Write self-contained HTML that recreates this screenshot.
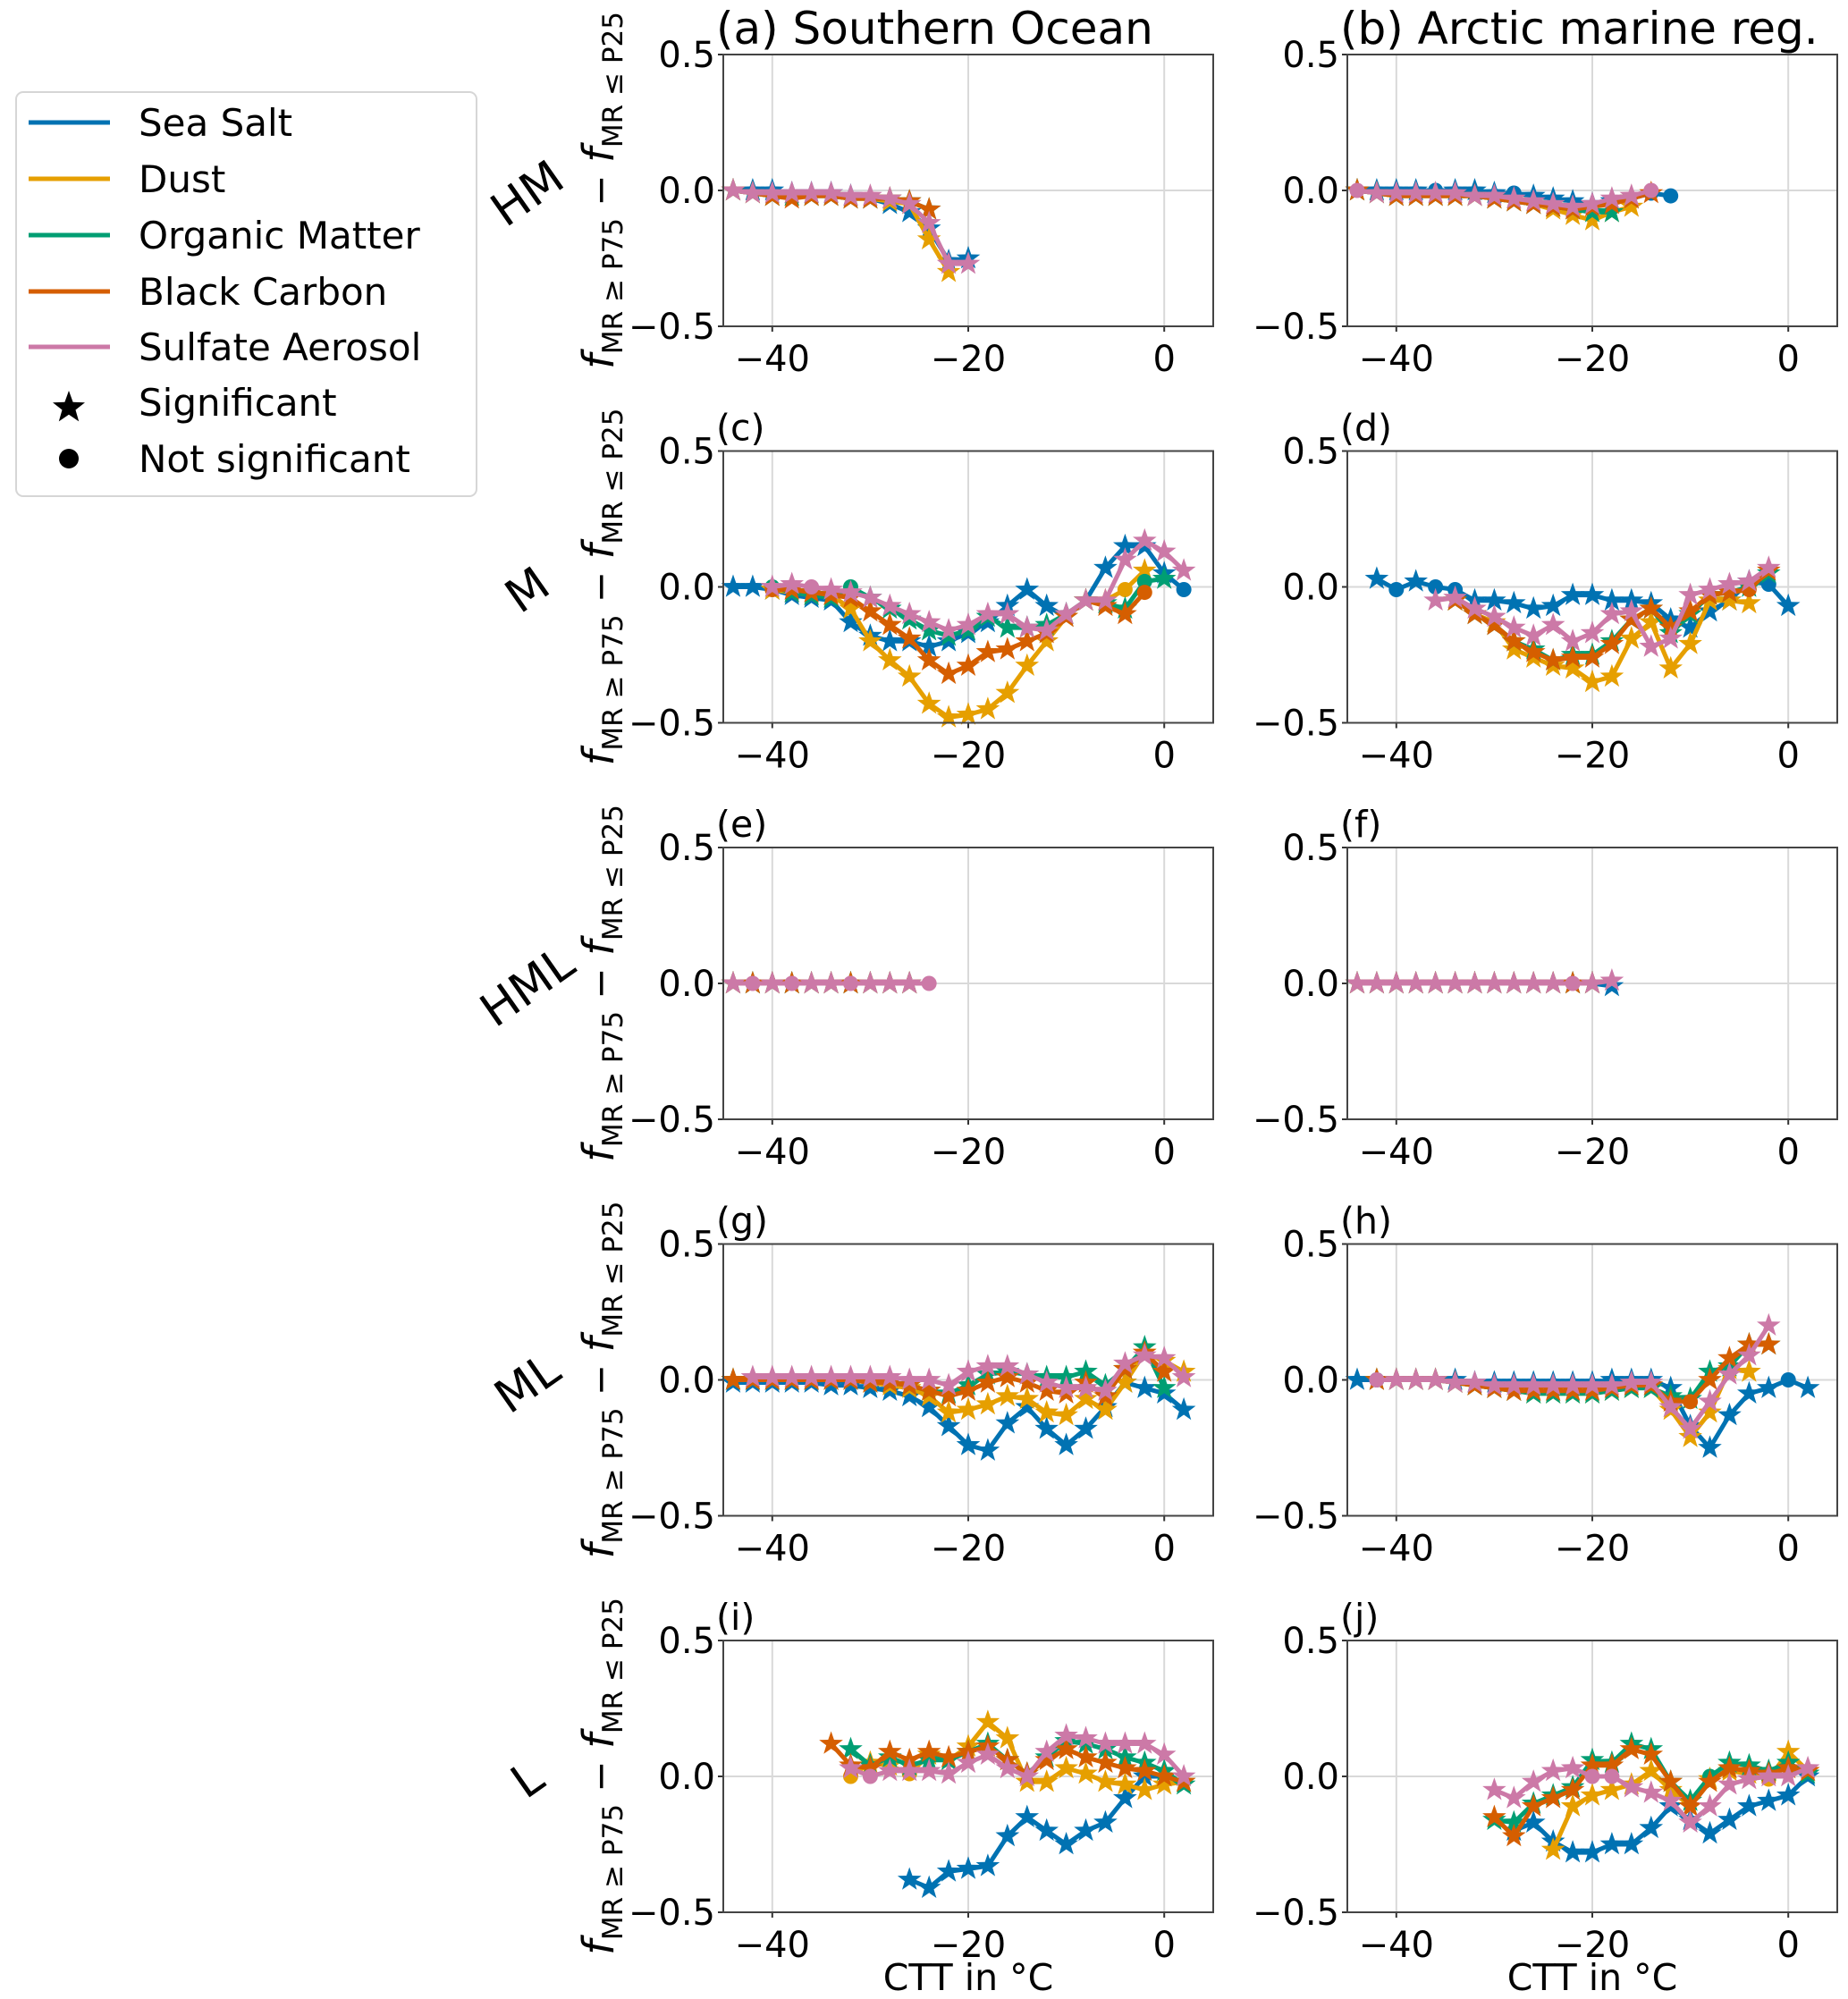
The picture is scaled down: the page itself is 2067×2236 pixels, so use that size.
<!DOCTYPE html>
<html><head><meta charset="utf-8"><style>
html,body{margin:0;padding:0;background:#fff;}
svg{display:block;font-family:"DejaVu Sans","Liberation Sans",sans-serif;}
</style></head><body>
<svg id="fig" width="2067" height="2236" viewBox="0 0 2067 2236" xmlns="http://www.w3.org/2000/svg">
<g id="legend">
<rect x="18" y="103" width="515" height="452" rx="8" fill="#fff" stroke="#d6d6d6" stroke-width="2"/>
<g><line x1="32" y1="137" x2="123" y2="137" stroke="#0072B2" stroke-width="5"/><text x="155" y="152" font-size="42">Sea Salt</text></g>
<g><line x1="32" y1="200" x2="123" y2="200" stroke="#E69F00" stroke-width="5"/><text x="155" y="215" font-size="42">Dust</text></g>
<g><line x1="32" y1="263" x2="123" y2="263" stroke="#009E73" stroke-width="5"/><text x="155" y="278" font-size="42">Organic Matter</text></g>
<g><line x1="32" y1="326" x2="123" y2="326" stroke="#D55E00" stroke-width="5"/><text x="155" y="341" font-size="42">Black Carbon</text></g>
<g><line x1="32" y1="388" x2="123" y2="388" stroke="#CC79A7" stroke-width="5"/><text x="155" y="403" font-size="42">Sulfate Aerosol</text></g>
<g><path d="M77,437 L81.6,449.7 L95,450.2 L84.5,458.5 L88.2,471.4 L77,463.8 L65.8,471.4 L69.5,458.5 L59,450.2 L72.4,449.7 Z" fill="#000"/><text x="155" y="465" font-size="42">Significant</text></g>
<g><circle cx="77" cy="513" r="11" fill="#000"/><text x="155" y="528" font-size="42">Not significant</text></g>
</g>
</svg>
<script>
const seriesNames = ["Sea Salt","Dust","Organic Matter","Black Carbon","Sulfate Aerosol"];
const seriesColors = ["#0072B2","#E69F00","#009E73","#D55E00","#CC79A7"];
const panelLetters = ["a","b","c","d","e","f","g","h","i","j"];
const panelTitles = ["(a) Southern Ocean","(b) Arctic marine reg.","(c)","(d)","(e)","(f)","(g)","(h)","(i)","(j)"];
const rowLabels = ["HM","M","HML","ML","L"];
const xTicks = [-40,-20,0];
const xTickLabels = ["\u221240","\u221220","0"];
const yTicks = [-0.5,0,0.5];
const yTickLabels = ["\u22120.5","0.0","0.5"];

const a_start = [-44,-44,-44,-44,-44];
const a_blue = [0,0,0,-0.01,-0.01,-0.01,-0.02,-0.03,-0.05,-0.08,-0.14,-0.26,-0.25];
const a_orange = [0,-0.01,-0.02,-0.02,-0.02,-0.02,-0.03,-0.03,-0.04,-0.05,-0.18,-0.3];
const a_green = [0,-0.01,-0.02,-0.02,-0.02,-0.02,-0.03,-0.03,-0.03,-0.04,-0.07];
const a_red = [0,-0.01,-0.02,-0.03,-0.02,-0.02,-0.03,-0.03,-0.03,-0.04,-0.07];
const a_pink = [0,-0.01,-0.01,-0.01,-0.01,-0.01,-0.02,-0.02,-0.03,-0.05,-0.12,-0.27,-0.27];
const a_circ = [[],[],[],[],[]];

const b_start = [-44,-44,-44,-44,-44];
const b_blue = [0,0,0,0,0,0,0,-0.01,-0.01,-0.02,-0.03,-0.04,-0.05,-0.04,-0.03,-0.01,-0.02];
const b_orange = [0,-0.01,-0.02,-0.02,-0.02,-0.02,-0.02,-0.03,-0.04,-0.05,-0.07,-0.09,-0.11,-0.08,-0.06];
const b_green = [0,-0.01,-0.02,-0.02,-0.02,-0.02,-0.02,-0.03,-0.04,-0.05,-0.06,-0.07,-0.08,-0.08];
const b_red = [0,-0.01,-0.02,-0.02,-0.02,-0.02,-0.02,-0.03,-0.04,-0.05,-0.06,-0.07,-0.06,-0.05,-0.03,-0.01];
const b_pink = [0,-0.01,-0.01,-0.01,-0.01,-0.01,-0.02,-0.02,-0.03,-0.04,-0.05,-0.06,-0.05,-0.03,-0.02,0];
const b_circ = [[-36,-28,-14,-12],[],[],[],[-44,-14]];

const c_start = [-44,-40,-40,-40,-40];
const c_blue = [0,0,-0.01,-0.03,-0.04,-0.05,-0.13,-0.18,-0.2,-0.2,-0.22,-0.2,-0.17,-0.13,-0.07,-0.01,-0.07,-0.11,-0.05,0.07,0.15,0.15,0.05,-0.01];
const c_orange = [-0.01,-0.02,-0.03,-0.03,-0.08,-0.2,-0.27,-0.33,-0.43,-0.48,-0.47,-0.45,-0.39,-0.29,-0.2,-0.11,-0.05,-0.05,-0.01,0.06];
const c_green = [0,-0.02,-0.03,-0.04,0,-0.04,-0.08,-0.12,-0.16,-0.18,-0.16,-0.11,-0.15,-0.15,-0.14,-0.1,-0.05,-0.06,-0.08,0.02,0.03];
const c_red = [-0.01,-0.01,-0.02,-0.03,-0.04,-0.09,-0.14,-0.19,-0.27,-0.32,-0.29,-0.24,-0.23,-0.2,-0.17,-0.11,-0.05,-0.07,-0.1,-0.02];
const c_pink = [0,0.01,0,-0.01,-0.02,-0.04,-0.07,-0.1,-0.13,-0.16,-0.14,-0.1,-0.1,-0.15,-0.16,-0.1,-0.05,-0.05,0.1,0.17,0.13,0.06];
const c_circ = [[2],[-4],[-40,-32,-2],[-40,-2],[-36]];

const d_start = [-42,-34,-34,-34,-36];
const d_blue = [0.03,-0.01,0.02,0,-0.01,-0.05,-0.05,-0.06,-0.08,-0.07,-0.03,-0.03,-0.05,-0.05,-0.06,-0.12,-0.15,-0.09,-0.05,0.02,0.01,-0.07];
const d_orange = [-0.05,-0.1,-0.13,-0.23,-0.26,-0.29,-0.3,-0.35,-0.33,-0.19,-0.13,-0.3,-0.21,-0.05,-0.05,-0.06];
const d_green = [-0.05,-0.1,-0.14,-0.2,-0.23,-0.27,-0.25,-0.25,-0.2,-0.12,-0.08,-0.17,-0.1,-0.03,-0.02,0,0.05];
const d_red = [-0.05,-0.1,-0.14,-0.2,-0.24,-0.27,-0.26,-0.26,-0.21,-0.12,-0.08,-0.15,-0.09,-0.03,-0.02,-0.01,0.06];
const d_pink = [-0.05,-0.04,-0.08,-0.11,-0.15,-0.18,-0.14,-0.2,-0.17,-0.1,-0.09,-0.22,-0.19,-0.03,-0.01,0.01,0.02,0.07];
const d_circ = [[-40,-36,-34,-2],[],[],[-4],[]];

const e_start = [-44,-44,-44,-44,-44];
const e_blue = [0,0,0,0,0,0,0,0,0,0];
const e_orange = [0,0,0,0,0,0,0,0,0,0];
const e_green = [0,0,0,0,0,0,0,0,0,0];
const e_red = [0,0,0,0,0,0,0,0,0,0];
const e_pink = [0,0,0,0,0,0,0,0,0,0,0];
const e_circ = [[],[],[],[],[-42,-38,-32,-24]];

const f_start = [-44,-44,-44,-44,-44];
const f_blue = [0,0,0,0,0,0,0,0,0,0,0,0,0,-0.01];
const f_orange = [0,0,0,0,0,0,0,0,0,0,0,0,0];
const f_green = [0,0,0,0,0,0,0,0,0,0,0,0,0];
const f_red = [0,0,0,0,0,0,0,0,0,0,0,0,0];
const f_pink = [0,0,0,0,0,0,0,0,0,0,0,0,0,0.01];
const f_circ = [[],[],[],[],[-22]];

const g_start = [-44,-44,-44,-44,-42];
const g_blue = [-0.01,-0.01,-0.01,-0.01,-0.01,-0.02,-0.02,-0.03,-0.04,-0.06,-0.1,-0.17,-0.24,-0.26,-0.16,-0.1,-0.18,-0.24,-0.18,-0.1,-0.01,-0.03,-0.05,-0.11];
const g_orange = [0,0,0,0,0,0,0,-0.01,-0.02,-0.03,-0.06,-0.12,-0.11,-0.09,-0.06,-0.07,-0.12,-0.13,-0.07,-0.11,-0.01,0.1,0.07,0.03];
const g_green = [0,0,0,0,0,0,0,0,-0.01,-0.02,-0.04,-0.05,-0.02,0.02,0.03,0.02,0.01,0.01,0.03,-0.02,0.04,0.12,-0.03];
const g_red = [0,0,0,0,0,0,0,-0.01,-0.01,-0.02,-0.04,-0.06,-0.04,-0.01,0.01,-0.01,-0.04,-0.05,-0.01,-0.06,0.04,0.1,0.03];
const g_pink = [0.01,0.01,0.01,0.01,0.01,0.01,0.01,0.01,0,0,-0.02,0.03,0.05,0.05,0.02,-0.01,-0.03,-0.03,-0.04,0.06,0.09,0.08,0.01];
const g_circ = [[],[],[],[],[]];

const h_start = [-44,-42,-42,-42,-42];
const h_blue = [0,0,0,0,0,0,-0.01,-0.01,-0.01,-0.01,-0.01,-0.01,-0.01,0,0,0,-0.03,-0.17,-0.25,-0.13,-0.05,-0.03,0,-0.03];
const h_orange = [0,0,0,0,-0.01,-0.02,-0.03,-0.04,-0.05,-0.05,-0.05,-0.05,-0.04,-0.03,-0.03,-0.11,-0.21,-0.12,0.04,0.03];
const h_green = [0,0,0,0,-0.01,-0.02,-0.03,-0.04,-0.05,-0.05,-0.05,-0.05,-0.04,-0.03,-0.03,-0.06,-0.07,0.03,0.05,0.13,0.13];
const h_red = [0,0,0,0,-0.01,-0.02,-0.03,-0.04,-0.04,-0.04,-0.04,-0.04,-0.03,-0.02,-0.02,-0.08,-0.08,0,0.08,0.13,0.13];
const h_pink = [0,0,0,0,-0.01,-0.01,-0.02,-0.02,-0.02,-0.02,-0.02,-0.02,-0.02,-0.01,-0.01,-0.1,-0.18,-0.08,0.02,0.09,0.2];
const h_circ = [[-42,0],[],[],[-10],[-42]];

const i_start = [-26,-32,-32,-34,-32];
const i_blue = [-0.38,-0.41,-0.35,-0.34,-0.33,-0.22,-0.15,-0.2,-0.25,-0.2,-0.17,-0.08,0,0,-0.02];
const i_orange = [0,0.05,0.04,0.01,0.08,0.06,0.11,0.2,0.14,-0.02,-0.02,0.03,0.01,-0.02,-0.03,-0.05,-0.03,-0.02];
const i_green = [0.1,0.04,0.07,0.04,0.06,0.06,0.09,0.12,0.06,0.01,0.07,0.13,0.12,0.1,0.07,0.05,0.02,-0.03];
const i_red = [0.12,0.04,0.03,0.09,0.06,0.09,0.07,0.09,0.11,0.06,0.01,0.06,0.1,0.07,0.05,0.03,0.02,0,-0.02];
const i_pink = [0.03,0,0.02,0.02,0.02,0.01,0.05,0.08,0.03,0,0.09,0.15,0.14,0.12,0.12,0.12,0.08,0];
const i_circ = [[],[-32,-26],[],[],[-30]];

const j_start = [-28,-24,-30,-30,-30];
const j_blue = [-0.2,-0.17,-0.24,-0.28,-0.28,-0.25,-0.25,-0.19,-0.11,-0.16,-0.21,-0.16,-0.11,-0.09,-0.07,0];
const j_orange = [-0.27,-0.11,-0.07,-0.05,-0.03,0.02,-0.05,-0.11,-0.01,0.02,0.01,-0.01,0.09,0.02];
const j_green = [-0.16,-0.17,-0.1,-0.07,-0.04,0.06,0.05,0.12,0.1,-0.02,-0.09,0,0.05,0.04,0.02,0.05,0.01];
const j_red = [-0.15,-0.22,-0.11,-0.08,-0.05,0.04,0.04,0.1,0.08,-0.02,-0.11,-0.02,0.03,0.02,0.01,0.03,0.02];
const j_pink = [-0.05,-0.08,-0.02,0.02,0.03,0,0,-0.04,-0.06,-0.09,-0.17,-0.11,-0.03,-0.01,0,0,0.03];
const j_circ = [[],[-2],[-8],[],[-20,-18]];

const panelStarts = [a_start,b_start,c_start,d_start,e_start,f_start,g_start,h_start,i_start,j_start];
const panelValues = [
 [a_blue,a_orange,a_green,a_red,a_pink],[b_blue,b_orange,b_green,b_red,b_pink],
 [c_blue,c_orange,c_green,c_red,c_pink],[d_blue,d_orange,d_green,d_red,d_pink],
 [e_blue,e_orange,e_green,e_red,e_pink],[f_blue,f_orange,f_green,f_red,f_pink],
 [g_blue,g_orange,g_green,g_red,g_pink],[h_blue,h_orange,h_green,h_red,h_pink],
 [i_blue,i_orange,i_green,i_red,i_pink],[j_blue,j_orange,j_green,j_red,j_pink]];
const panelCircles = [a_circ,b_circ,c_circ,d_circ,e_circ,f_circ,g_circ,h_circ,i_circ,j_circ];

const NS = "http://www.w3.org/2000/svg";
const svg = document.getElementById("fig");
const colLeft = [809,1507], axW = 548, rowTop0 = 61, rowPitch = 443.5, axH = 304;
const xMin = -45, xMax = 5, yMin = -0.5, yMax = 0.5;
function mk(tag, attrs, parent){const e=document.createElementNS(NS,tag);for(const k in attrs)e.setAttribute(k,attrs[k]);(parent||svg).appendChild(e);return e;}
function starPath(cx,cy,R){let d="";const r=R*0.4;for(let k=0;k<10;k++){const rad=k%2?r:R;const ang=-Math.PI/2+k*Math.PI/5;d+=(k?"L":"M")+(cx+rad*Math.cos(ang)).toFixed(1)+","+(cy+rad*Math.sin(ang)).toFixed(1);}return d+"Z";}

for(let p=0;p<10;p++){
  const col=p%2,row=Math.floor(p/2);
  const L=colLeft[col],T=rowTop0+row*rowPitch;
  const xs=v=>L+(v-xMin)/(xMax-xMin)*axW;
  const ys=v=>T+(yMax-v)/(yMax-yMin)*axH;
  const g=mk("g",{});
  
  
  mk("rect",{x:L,y:T,width:axW,height:axH,fill:"#fff"},g);
  xTicks.forEach((t,i)=>{
    const gl=mk("line",{x1:xs(t),x2:xs(t),y1:T,y2:T+axH,stroke:"#d9d9d9","stroke-width":2},g);
    
    
    mk("line",{x1:xs(t),x2:xs(t),y1:T+axH,y2:T+axH+6,stroke:"#333","stroke-width":2},g);
    const tl=mk("text",{x:xs(t),y:T+axH+50,"font-size":40,"text-anchor":"middle"},g);
    tl.textContent=xTickLabels[i];
    
    
  });
  yTicks.forEach((t,i)=>{
    const gl=mk("line",{x1:L,x2:L+axW,y1:ys(t),y2:ys(t),stroke:"#d9d9d9","stroke-width":2},g);
    
    
    mk("line",{x1:L-6,x2:L,y1:ys(t),y2:ys(t),stroke:"#333","stroke-width":2},g);
    const tl=mk("text",{x:L-9,y:ys(t)+14,"font-size":40,"text-anchor":"end"},g);
    tl.textContent=yTickLabels[i];
    
    
  });
  const title=mk("text",{x:L-8,y:T-12,"font-size":p<2?50:41},g);
  title.textContent=panelTitles[p];
  
  
  const starts=panelStarts[p],vals=panelValues[p],circs=panelCircles[p];
  for(let s=0;s<5;s++){
    const sg=mk("g",{},g);
    
    
    const pts=vals[s].map((v,k)=>[xs(starts[s]+2*k),ys(v)]);
    const ln=mk("polyline",{points:pts.map(q=>q[0].toFixed(1)+","+q[1].toFixed(1)).join(" "),fill:"none",stroke:seriesColors[s],"stroke-width":5,"stroke-linejoin":"round"},sg);
    
    
    vals[s].forEach((v,k)=>{
      const t=starts[s]+2*k;
      let m;
      if(circs[s].indexOf(t)>=0){m=mk("circle",{cx:xs(t),cy:ys(v),r:8.5,fill:seriesColors[s]},sg);}
      else{m=mk("path",{d:starPath(xs(t),ys(v),14),fill:seriesColors[s]},sg);}
      
      
    });
  }
  mk("rect",{x:L,y:T,width:axW,height:axH,fill:"none",stroke:"#444","stroke-width":2},g);
  if(col===0){
    const cy=T+axH/2;
    const yl=mk("text",{x:0,y:0,"font-size":42,"text-anchor":"middle",transform:"translate(686,"+cy+") rotate(-90)"},g);
    yl.innerHTML='<tspan font-style="italic" font-size="48">f</tspan><tspan font-size="31" dy="10">MR \u2265 P75</tspan><tspan dy="-10"> \u2212 </tspan><tspan font-style="italic" font-size="48">f</tspan><tspan font-size="31" dy="10">MR \u2264 P25</tspan>';
    
    
    const rl=mk("text",{x:0,y:0,"font-size":52,"text-anchor":"middle",transform:"translate(600,"+(cy+18)+") rotate(-35)"},g);
    rl.textContent=rowLabels[row];
    
    
  }
  if(row===4){
    const xl=mk("text",{x:L+axW/2,y:2226,"font-size":41,"text-anchor":"middle"},g);
    xl.textContent="CTT in \u00b0C";
    
    
  }
}
</script>
</body></html>
